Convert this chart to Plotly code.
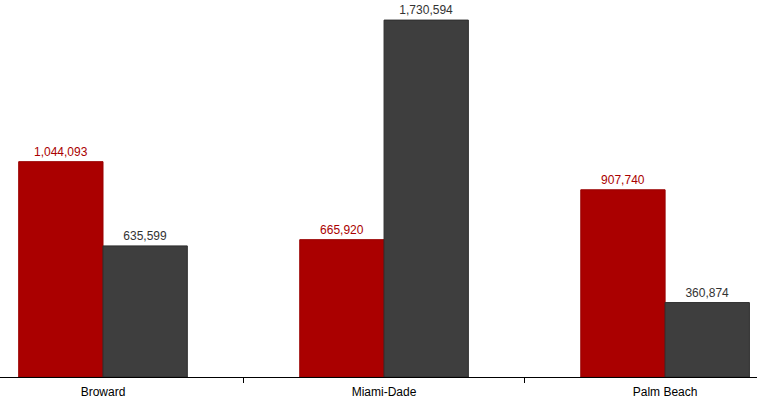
import plotly.graph_objects as go

categories = ["Broward", "Miami-Dade", "Palm Beach"]
series_a = [1044093, 665920, 907740]
series_b = [635599, 1730594, 360874]

def fmt(v):
    return f"{v:,}"

FONT = "Liberation Sans, Arial, sans-serif"

fig = go.Figure()
fig.add_trace(go.Bar(
    x=categories, y=series_a, name="A",
    marker=dict(color="#AA0000", line=dict(color="#990000", width=1)),
    text=[fmt(v) for v in series_a], textposition="outside",
    textfont=dict(color="#AA0000", size=12, family=FONT),
    cliponaxis=False,
))
fig.add_trace(go.Bar(
    x=categories, y=series_b, name="B",
    marker=dict(color="#3E3E3E", line=dict(color="#2E2E2E", width=1)),
    text=[fmt(v) for v in series_b], textposition="outside",
    textfont=dict(color="#333333", size=12, family=FONT),
    cliponaxis=False,
))

fig.update_layout(
    width=757, height=405,
    margin=dict(l=0, r=0, t=0, b=28),
    barmode="group", bargap=0.4, bargroupgap=0,
    showlegend=False,
    plot_bgcolor="white", paper_bgcolor="white",
    font=dict(family=FONT, size=12, color="#000000"),
)
fig.update_xaxes(
    range=[-0.3665, 2.327],
    showline=True, linecolor="black", linewidth=1,
    ticks="outside", tickson="boundaries", ticklen=5, tickcolor="black",
    ticklabelstandoff=4,
    showgrid=False, zeroline=False,
    tickfont=dict(size=12, color="#000000"),
)
fig.update_yaxes(
    range=[0, 1828000], visible=False, showgrid=False, zeroline=False,
)

fig.write_html(
    "out.html",
    config={"displayModeBar": False},
    post_script="document.body.style.margin='0';document.body.style.padding='0';",
)
